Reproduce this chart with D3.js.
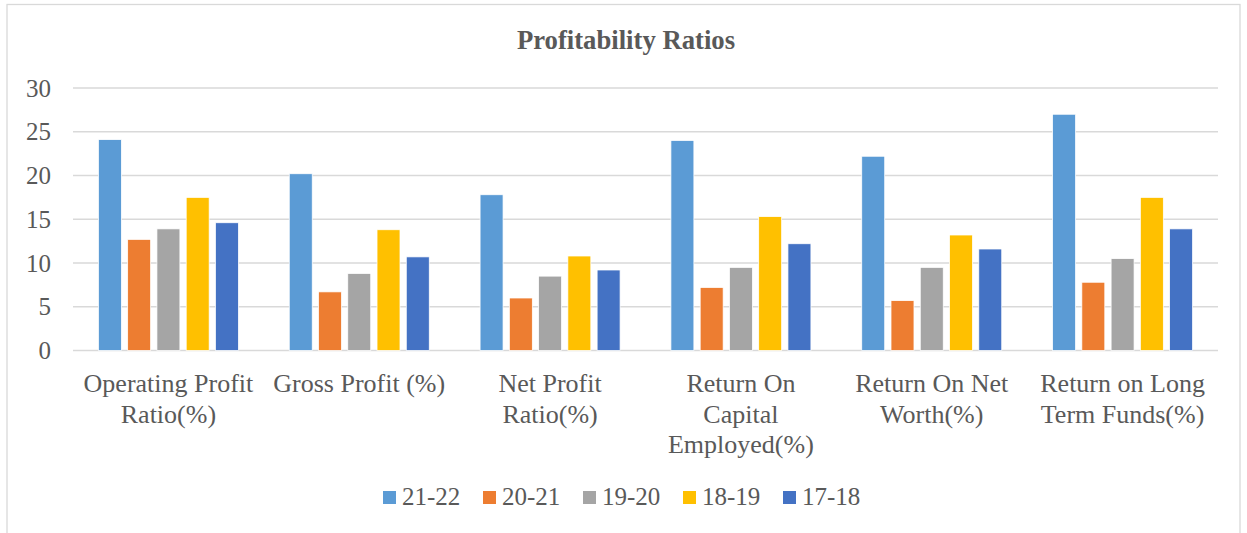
<!DOCTYPE html>
<html>
<head>
<meta charset="utf-8">
<script src="https://cdn.jsdelivr.net/npm/d3@7"></script>
<style>
  body { margin: 0; background: #fff; }
  text { font-family: "Liberation Serif", "Times New Roman", serif; fill: #595959; }
</style>
</head>
<body>
<div id="chart"></div>
<script>
const width = 1247
const height = 533

// data
const categories = [
  "Operating Profit\nRatio(%)",
  "Gross Profit (%)",
  "Net Profit\nRatio(%)",
  "Return On\nCapital\nEmployed(%)",
  "Return On Net\nWorth(%)",
  "Return on Long\nTerm Funds(%)"
]
const seriesNames = ["21-22", "20-21", "19-20", "18-19", "17-18"]
const v2122 = [24.1, 20.2, 17.8, 24.0, 22.2, 27.0]
const v2021 = [12.7, 6.7, 6.0, 7.2, 5.7, 7.8]
const v1920 = [13.9, 8.8, 8.5, 9.5, 9.5, 10.5]
const v1819 = [17.5, 13.8, 10.8, 15.3, 13.2, 17.5]
const v1718 = [14.6, 10.7, 9.2, 12.2, 11.6, 13.9]
const yTicks = [0, 5, 10, 15, 20, 25, 30]
const colors = ["#5B9BD5", "#ED7D31", "#A5A5A5", "#FFC000", "#4472C4"]

const seriesValues = [v2122, v2021, v1920, v1819, v1718]
const rows = categories.map((c, i) => ({
  cat: c,
  vals: seriesNames.map((s, j) => ({ key: s, value: seriesValues[j][i] }))
}))

const margin = { left: 73, right: 29, top: 88, bottom: 183 }

const svg = d3.select("#chart")
  .append("svg")
  .attr("width", width)
  .attr("height", height)

// chart border
svg.append("rect")
  .attr("x", 7)
  .attr("y", 4.5)
  .attr("width", 1233)
  .attr("height", 560)
  .attr("fill", "none")
  .attr("stroke", "#d9d9d9")
  .attr("stroke-width", 1.3)

const x0 = d3.scaleBand()
  .domain(categories)
  .range([margin.left, width - margin.right])
  .padding(0)

const groupW = 140
const x1 = d3.scaleBand()
  .domain(seriesNames)
  .range([0, groupW])
  .paddingInner(0.215)
  .paddingOuter(0)

const y = d3.scaleLinear()
  .domain([0, 30])
  .range([height - margin.bottom + 0.5, margin.top])

const color = d3.scaleOrdinal(seriesNames, colors)

// gridlines
svg.append("g")
  .selectAll("line")
  .data(yTicks)
  .enter()
  .append("line")
  .attr("x1", margin.left)
  .attr("x2", width - margin.right)
  .attr("y1", d => y(d))
  .attr("y2", d => y(d))
  .attr("stroke", "#d9d9d9")
  .attr("stroke-width", 1.3)

// y tick labels
svg.append("g")
  .selectAll("text")
  .data(yTicks)
  .enter()
  .append("text")
  .attr("x", 51)
  .attr("y", d => y(d) + 8.5)
  .attr("text-anchor", "end")
  .style("font-size", "25px")
  .text(d => d)

// bars
const group = svg.append("g")
  .selectAll("g")
  .data(rows)
  .enter()
  .append("g")
  .attr("transform", d => "translate(" + (x0(d.cat) + (x0.bandwidth() - groupW) / 2) + ",0)")

group.selectAll("rect")
  .data(d => d.vals)
  .enter()
  .append("rect")
  .attr("x", d => x1(d.key))
  .attr("y", d => y(d.value))
  .attr("width", x1.bandwidth())
  .attr("height", d => y(0) - y(d.value))
  .attr("fill", d => color(d.key))
  .attr("stroke", "#fff")
  .attr("stroke-width", 0.75)

// category labels
svg.append("g")
  .selectAll("text")
  .data(categories)
  .enter()
  .append("text")
  .attr("text-anchor", "middle")
  .style("font-size", "26px")
  .each(function(d) {
    const t = d3.select(this)
    d.split("\n").forEach((line, i) => {
      t.append("tspan")
        .attr("x", x0(d) + x0.bandwidth() / 2)
        .attr("y", 392 + 30.5 * i)
        .text(line)
    })
  })

// title
svg.append("text")
  .attr("x", 626)
  .attr("y", 49)
  .attr("text-anchor", "middle")
  .style("font-size", "26.7px")
  .style("font-weight", "bold")
  .text("Profitability Ratios")

// legend
const legendX = d3.scalePoint()
  .domain(seriesNames)
  .range([383, 783])

const legend = svg.append("g")
  .selectAll("g")
  .data(seriesNames)
  .enter()
  .append("g")
  .attr("transform", d => "translate(" + legendX(d) + ",491)")

legend.append("rect")
  .attr("width", 13)
  .attr("height", 13)
  .attr("fill", d => color(d))

legend.append("text")
  .attr("x", 19)
  .attr("y", 14)
  .style("font-size", "25px")
  .text(d => d)
</script>
</body>
</html>
